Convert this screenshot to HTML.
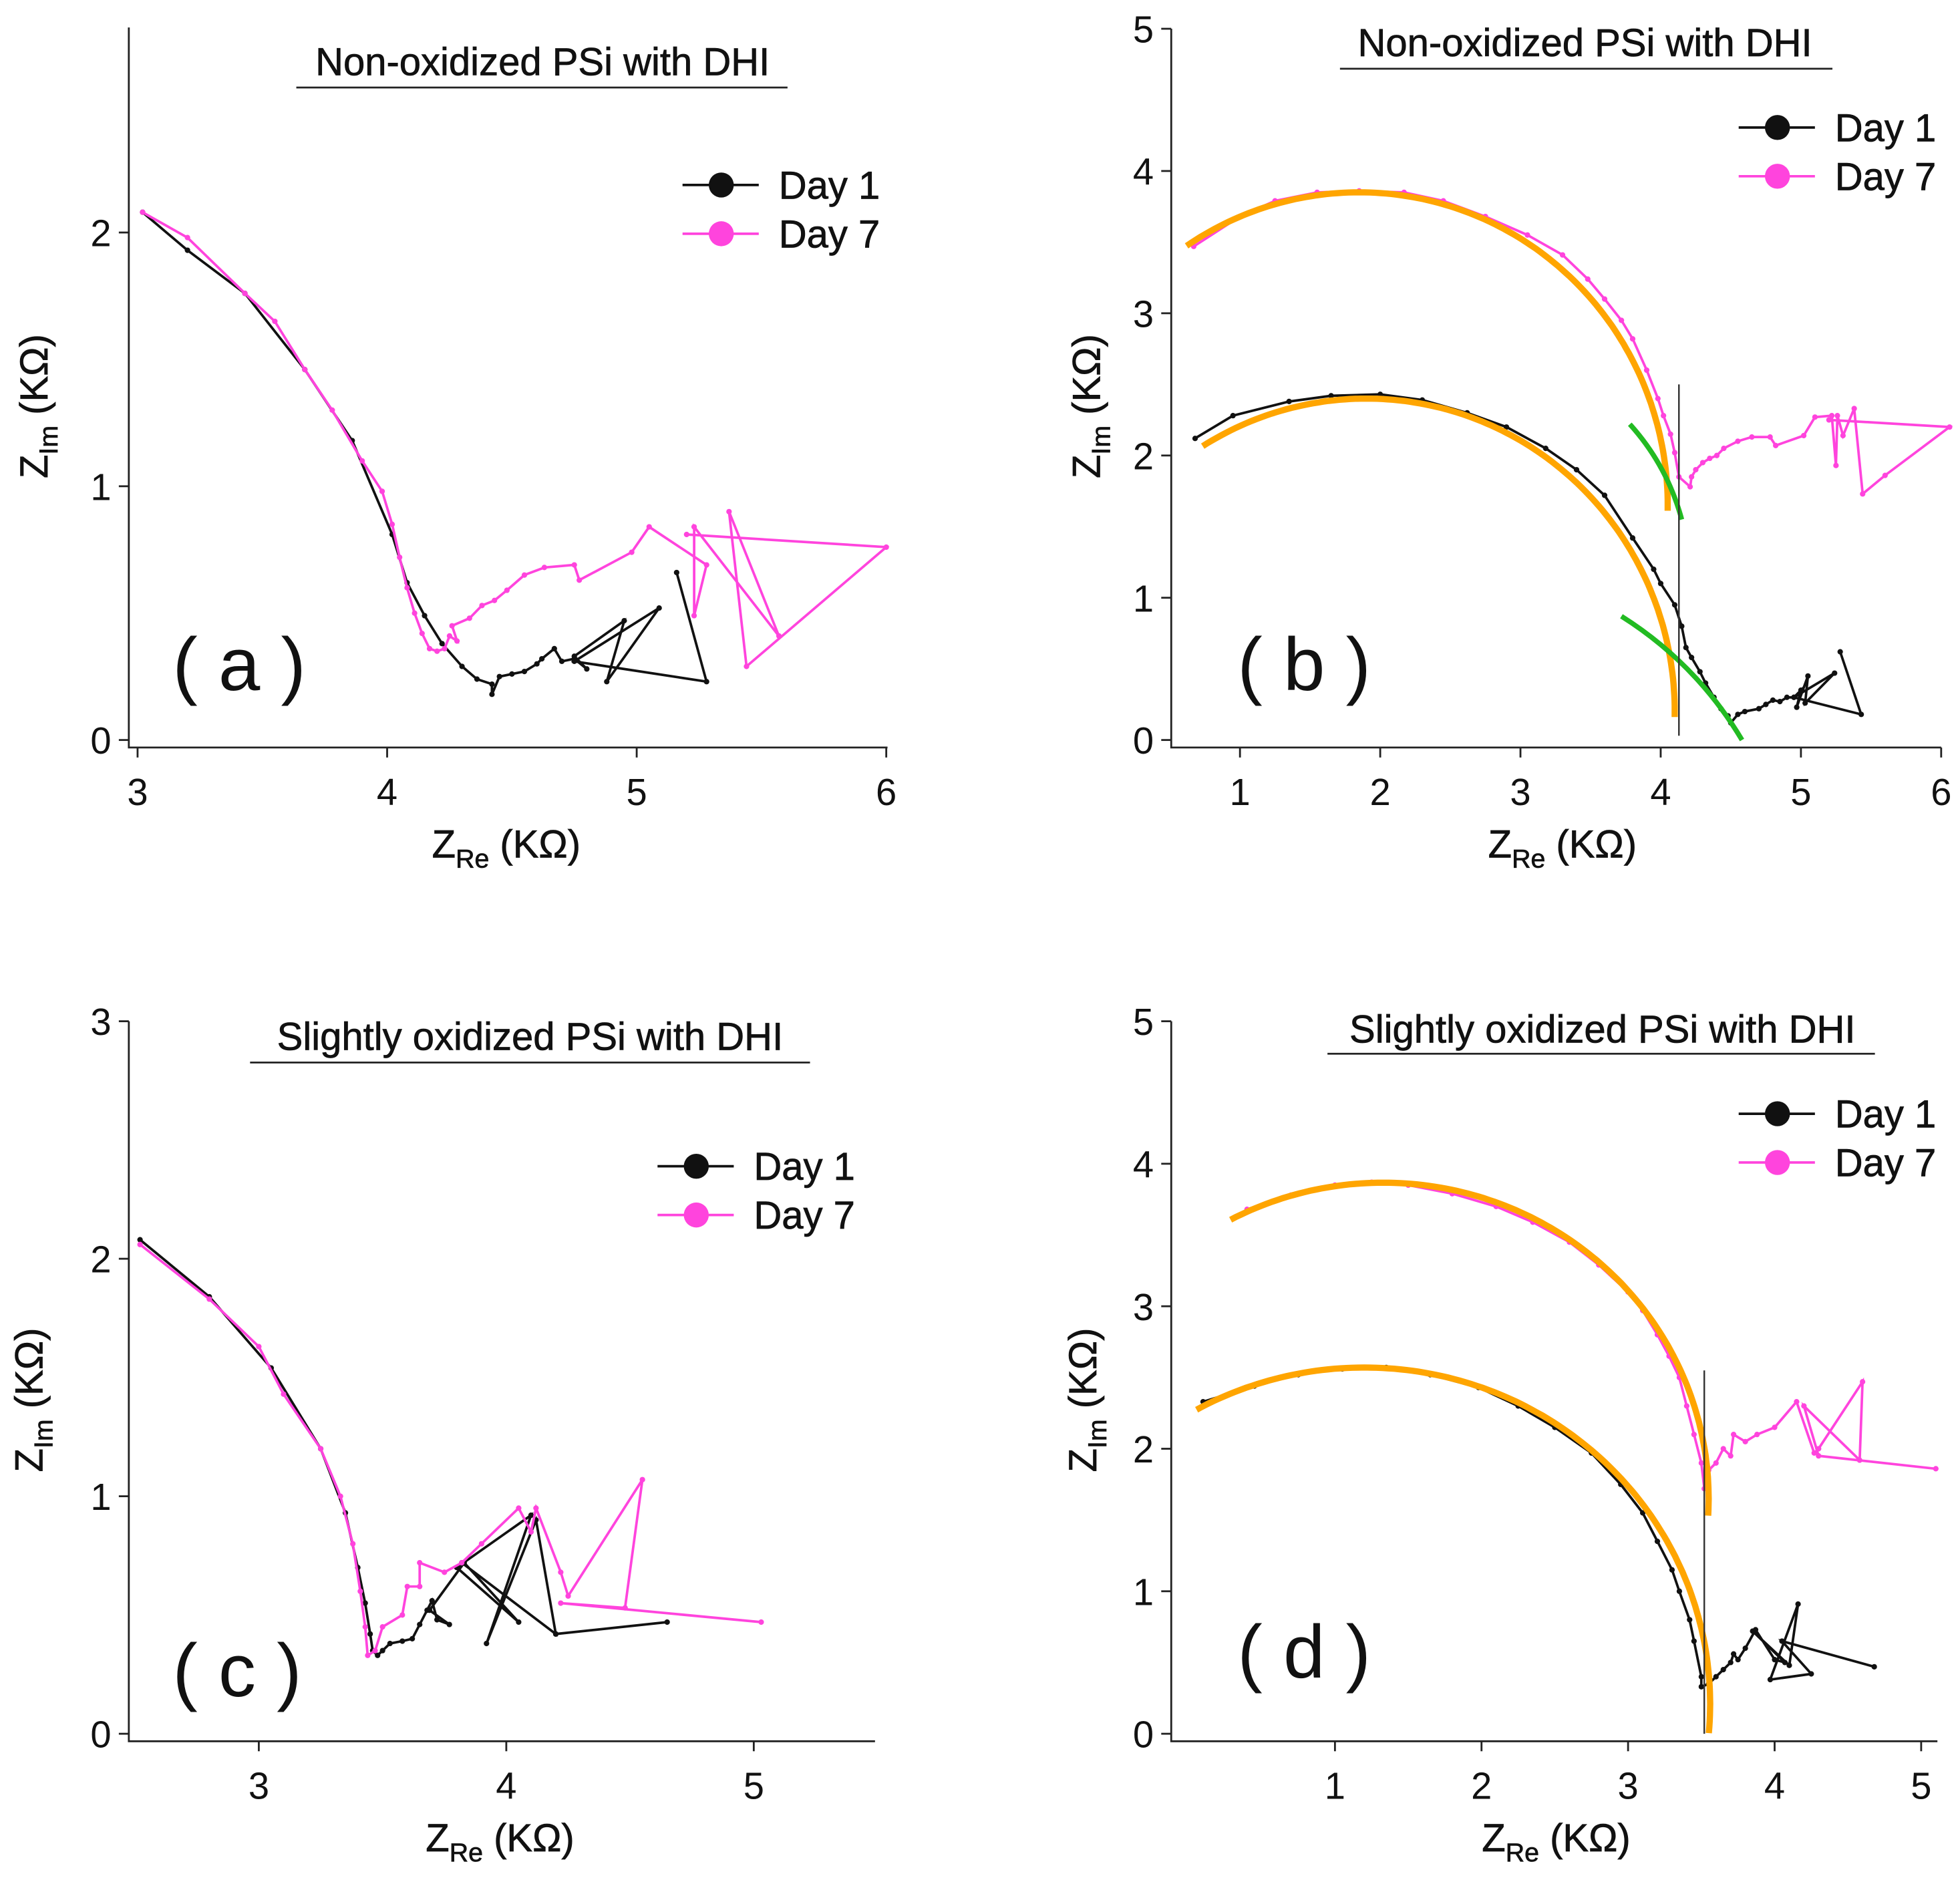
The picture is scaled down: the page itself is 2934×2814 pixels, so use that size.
<!DOCTYPE html>
<html><head><meta charset="utf-8">
<style>
html,body{margin:0;padding:0;background:#fff;}
svg{display:block;font-family:"Liberation Sans",sans-serif;}
</style></head>
<body>
<svg id="fig" width="2934" height="2814" viewBox="0 0 1568 1504" xmlns="http://www.w3.org/2000/svg"></svg>
<script>
// ---- Panel (a) data (KΩ) ----
const aDay1X=[3.02,3.2,3.43,3.67,3.86,4.02,4.08,4.15,4.22,4.3,4.36,4.42,4.42,4.45,4.5,4.55,4.6,4.62,4.67,4.7,4.75,4.8,4.75,4.95,4.88,5.09,4.75,5.28,5.16];
const aDay1Y=[2.08,1.93,1.76,1.46,1.18,0.81,0.62,0.49,0.38,0.29,0.24,0.22,0.18,0.25,0.26,0.27,0.3,0.32,0.36,0.31,0.32,0.28,0.33,0.47,0.23,0.52,0.31,0.23,0.66];
const aDay7X=[3.02,3.2,3.43,3.55,3.67,3.78,3.9,3.98,4.02,4.05,4.08,4.11,4.14,4.17,4.2,4.23,4.25,4.28,4.26,4.33,4.38,4.43,4.48,4.55,4.63,4.75,4.77,4.98,5.05,5.28,5.23,5.23,5.57,5.37,5.44,6.0,5.2];
const aDay7Y=[2.08,1.98,1.76,1.65,1.46,1.3,1.1,0.98,0.85,0.72,0.6,0.5,0.42,0.36,0.35,0.36,0.41,0.39,0.45,0.48,0.53,0.55,0.59,0.65,0.68,0.69,0.63,0.74,0.84,0.69,0.49,0.84,0.41,0.9,0.29,0.76,0.81];
// ---- Panel (b) ----
const bDay1X=[0.68,0.95,1.35,1.65,2.0,2.3,2.62,2.9,3.18,3.4,3.6,3.8,3.95,4.0,4.1,4.15,4.18,4.22,4.28,4.32,4.38,4.43,4.48,4.5,4.55,4.6,4.7,4.75,4.8,4.85,4.9,4.95,5.0,4.97,5.05,5.03,5.24,4.95,5.43,5.28];
const bDay1Y=[2.12,2.28,2.38,2.42,2.43,2.39,2.3,2.2,2.05,1.9,1.72,1.42,1.2,1.1,0.95,0.8,0.65,0.58,0.48,0.4,0.3,0.22,0.17,0.12,0.18,0.2,0.22,0.25,0.28,0.27,0.3,0.3,0.35,0.23,0.45,0.26,0.47,0.3,0.18,0.62];
const bDay7X=[0.67,1.0,1.25,1.55,1.85,2.17,2.45,2.75,3.05,3.3,3.48,3.6,3.72,3.8,3.9,3.98,4.02,4.07,4.1,4.13,4.21,4.22,4.25,4.3,4.35,4.4,4.45,4.55,4.65,4.78,4.82,5.02,5.1,5.22,5.25,5.26,5.3,5.38,5.44,5.6,6.06,5.2];
const bDay7Y=[3.47,3.68,3.79,3.85,3.86,3.85,3.79,3.68,3.55,3.41,3.24,3.1,2.95,2.82,2.6,2.4,2.28,2.15,2.02,1.85,1.78,1.85,1.9,1.95,1.98,2.0,2.05,2.1,2.13,2.13,2.07,2.14,2.27,2.28,1.93,2.28,2.14,2.33,1.73,1.86,2.2,2.25];
// fitted arcs: center x, center y, radius, start angle, end angle (deg)
const bOrange=[[1.85,1.65,2.2,124,-1],[1.9,0.2,2.2,122,-1]];
const bGreen=[[3.78,2.22,4.15,1.55],[3.72,0.87,4.58,0.0]];
// ---- Panel (c) ----
const cDay1X=[2.52,2.8,3.05,3.25,3.35,3.4,3.43,3.45,3.46,3.48,3.5,3.53,3.58,3.62,3.65,3.68,3.7,3.72,3.77,3.69,3.83,4.05,3.8,4.1,3.92,4.12,4.2,3.82,4.2,4.65];
const cDay1Y=[2.08,1.84,1.54,1.2,0.93,0.7,0.55,0.42,0.35,0.33,0.35,0.38,0.39,0.4,0.46,0.52,0.56,0.48,0.46,0.52,0.72,0.47,0.7,0.92,0.38,0.9,0.42,0.72,0.42,0.47];
const cDay7X=[2.52,2.8,3.0,3.1,3.25,3.33,3.38,3.41,3.43,3.44,3.47,3.5,3.58,3.6,3.65,3.65,3.75,3.82,3.9,4.05,4.1,4.12,4.22,4.25,4.55,4.48,4.22,5.03];
const cDay7Y=[2.06,1.83,1.63,1.43,1.2,1.0,0.8,0.6,0.45,0.33,0.35,0.45,0.5,0.62,0.62,0.72,0.68,0.72,0.8,0.95,0.85,0.95,0.68,0.58,1.07,0.53,0.55,0.47];
// ---- Panel (d) ----
const dDay1X=[0.1,0.45,0.75,1.05,1.35,1.65,1.98,2.25,2.5,2.75,2.95,3.1,3.2,3.3,3.35,3.42,3.45,3.5,3.5,3.55,3.6,3.65,3.7,3.72,3.75,3.8,3.87,4.0,4.07,3.85,4.1,4.16,3.97,4.25,4.05,4.68];
const dDay1Y=[2.33,2.44,2.52,2.56,2.57,2.52,2.43,2.3,2.15,1.97,1.75,1.55,1.35,1.15,1.0,0.8,0.65,0.4,0.33,0.35,0.4,0.45,0.5,0.56,0.52,0.6,0.73,0.52,0.5,0.72,0.48,0.91,0.38,0.42,0.65,0.47];
const dDay7X=[0.4,0.7,1.0,1.25,1.5,1.8,2.1,2.35,2.6,2.8,3.0,3.1,3.2,3.28,3.35,3.4,3.45,3.5,3.52,3.55,3.6,3.65,3.7,3.72,3.8,3.88,4.0,4.15,4.27,4.3,4.6,4.58,4.2,4.3,5.1];
const dDay7Y=[3.68,3.78,3.85,3.87,3.85,3.79,3.7,3.59,3.45,3.29,3.1,2.97,2.8,2.65,2.5,2.3,2.1,1.9,1.72,1.85,1.9,2.0,1.95,2.1,2.05,2.1,2.15,2.33,1.97,2.0,2.47,1.92,2.3,1.95,1.86];
const dOrange=[[1.33,1.647,2.22,118,-3],[1.2,0.21,2.36,119,-5]];
// tick labels
const aXTicks=[3,4,5,6], aYTicks=[0,1,2];
const bXTicks=[1,2,3,4,5,6], bYTicks=[0,1,2,3,4,5];
const cXTicks=[3,4,5], cYTicks=[0,1,2,3];
const dXTicks=[1,2,3,4,5], dYTicks=[0,1,2,3,4,5];

const NS="http://www.w3.org/2000/svg";
const svg=document.getElementById('fig');
function mk(tag,attrs,parent){const e=document.createElementNS(NS,tag);for(const k in attrs)e.setAttribute(k,attrs[k]);(parent||svg).appendChild(e);return e;}
function lin(d0,d1,p0,p1){return v=>p0+(v-d0)*(p1-p0)/(d1-d0);}

const panels=[
 {id:'a',sx:lin(3,6,110,709),sy:lin(0,2,592,186),ax:103,axTop:22,axY:598,axR:710,xt:aXTicks,yt:aYTicks,
  title:'Non-oxidized PSi with DHI',tx:434,ty:60,ul:[237,630,70],leg:[546,148,623],lab:[138,552],xl:[405,686],yl:[38,325],
  d1:[aDay1X,aDay1Y],d7:[aDay7X,aDay7Y],orange:[],green:[],vline:null},
 {id:'b',sx:lin(1,6,992,1553),sy:lin(0,5,592,23),ax:937,axTop:23,axY:598,axR:1553,xt:bXTicks,yt:bYTicks,
  title:'Non-oxidized PSi with DHI',tx:1268,ty:45,ul:[1072,1466,55],leg:[1391,102,1468],lab:[990,552],xl:[1250,686],yl:[880,325],
  d1:[bDay1X,bDay1Y],d7:[bDay7X,bDay7Y],orange:bOrange,green:bGreen,vline:[4.13,2.5,0.03]},
 {id:'c',sx:lin(3,5,207,603),sy:lin(0,3,1387,817),ax:103,axTop:817,axY:1393,axR:700,xt:cXTicks,yt:cYTicks,
  title:'Slightly oxidized PSi with DHI',tx:424,ty:840,ul:[200,648,850],leg:[526,933,603],lab:[138,1357],xl:[400,1481],yl:[34,1120],
  d1:[cDay1X,cDay1Y],d7:[cDay7X,cDay7Y],orange:[],green:[],vline:null},
 {id:'d',sx:lin(1,5,1068,1537),sy:lin(0,5,1387,817),ax:937,axTop:817,axY:1393,axR:1550,xt:dXTicks,yt:dYTicks,
  title:'Slightly oxidized PSi with DHI',tx:1282,ty:834,ul:[1062,1500,843],leg:[1391,891,1468],lab:[990,1342],xl:[1245,1481],yl:[877,1120],
  d1:[dDay1X,dDay1Y],d7:[dDay7X,dDay7Y],orange:dOrange,green:[],vline:[3.52,2.55,0]}
];

panels.forEach(p=>{
 const g=mk('g',{});
 
 
 const axes=mk('path',{d:`M${p.ax},${p.axTop}V${p.axY}H${p.axR}`,stroke:'#222',fill:'none','stroke-width':1.5},g);
 
 
 p.xt.forEach(v=>{const x=p.sx(v);
  mk('line',{x1:x,x2:x,y1:p.axY,y2:p.axY+8,stroke:'#222','stroke-width':1.5},g);
  const t=mk('text',{x:x,y:p.axY+46,'font-size':30,'text-anchor':'middle',fill:'#111'},g);t.textContent=v;
  
  });
 p.yt.forEach(v=>{const y=p.sy(v);
  mk('line',{x1:p.ax-8,x2:p.ax,y1:y,y2:y,stroke:'#222','stroke-width':1.5},g);
  const t=mk('text',{x:p.ax-14,y:y+11,'font-size':30,'text-anchor':'end',fill:'#111'},g);t.textContent=v;
  
  });
 const tt=mk('text',{x:p.tx,y:p.ty,'font-size':31,'text-anchor':'middle',fill:'#111','stroke':'#111','stroke-width':0.4},g);tt.textContent=p.title;
 
 
 mk('line',{x1:p.ul[0],x2:p.ul[1],y1:p.ul[2],y2:p.ul[2],stroke:'#222','stroke-width':1.5},g);
 const xl=mk('text',{x:p.xl[0],y:p.xl[1],'font-size':31,'text-anchor':'middle',fill:'#111','stroke':'#111','stroke-width':0.4},g);
 xl.innerHTML='Z<tspan font-size="21" dy="8">Re</tspan><tspan dy="-8"> (KΩ)</tspan>';
 
 
 const yl=mk('text',{x:0,y:0,'font-size':31,'text-anchor':'middle',fill:'#111','stroke':'#111','stroke-width':0.4,transform:`translate(${p.yl[0]},${p.yl[1]}) rotate(-90)`},g);
 yl.innerHTML='Z<tspan font-size="21" dy="8">Im</tspan><tspan dy="-8"> (KΩ)</tspan>';
 
 
 const lab=mk('text',{x:p.lab[0],y:p.lab[1],'font-size':60,fill:'#111'},g);lab.textContent='( '+p.id+' )';
 
 
 // series
 [[p.d1,'#111','day1'],[p.d7,'#ff44dd','day7']].forEach(([d,c,n])=>{
  const pts=d[0].map((x,i)=>p.sx(x).toFixed(1)+','+p.sy(d[1][i]).toFixed(1)).join(' ');
  const pl=mk('polyline',{points:pts,fill:'none',stroke:c,'stroke-width':2},g);
  
  
  d[0].forEach((x,i)=>{const m=mk('circle',{cx:p.sx(x),cy:p.sy(d[1][i]),r:2.2,fill:c},g);
   
   });
 });
 p.orange.forEach(a=>{const [cx,cy,r,s,e]=a;let pts=[];
  for(let t=s;t>=e;t-=1){const rad=t*Math.PI/180;pts.push(p.sx(cx+r*Math.cos(rad)).toFixed(1)+','+p.sy(cy+r*Math.sin(rad)).toFixed(1));}
  const o=mk('polyline',{points:pts.join(' '),fill:'none',stroke:'#ffa500','stroke-width':5},g);
  
  });
 p.green.forEach(a=>{const [x0,y0,x1,y1]=a;
  const X0=p.sx(x0),Y0=p.sy(y0),X1=p.sx(x1),Y1=p.sy(y1);
  const mx=(X0+X1)/2,my=(Y0+Y1)/2,dx=X1-X0,dy=Y1-Y0,L=Math.hypot(dx,dy);
  const k=0.12*L;const cx=mx+(-dy/L)*k*-1,cy=my+(dx/L)*k*-1;
  const gr=mk('path',{d:`M${X0},${Y0}Q${cx},${cy} ${X1},${Y1}`,fill:'none',stroke:'#22bb22','stroke-width':4},g);
  
  });
 if(p.vline){const v=mk('line',{x1:p.sx(p.vline[0]),x2:p.sx(p.vline[0]),y1:p.sy(p.vline[1]),y2:p.sy(p.vline[2]),stroke:'#333','stroke-width':1.3},g);
  
  }
 // legend
 [['Day 1','#111',0],['Day 7','#ff44dd',39]].forEach(([t,c,dy])=>{
  const lg=mk('g',{},g);
  
  
  const y=p.leg[1]+dy;
  mk('line',{x1:p.leg[0],x2:p.leg[0]+61,y1:y,y2:y,stroke:c,'stroke-width':2},lg);
  mk('circle',{cx:p.leg[0]+31,cy:y,r:10,fill:c},lg);
  const tx=mk('text',{x:p.leg[2],y:y+11,'font-size':31,fill:'#111','stroke':'#111','stroke-width':0.4},lg);tx.textContent=t;
 });
});
</script>
</body></html>
